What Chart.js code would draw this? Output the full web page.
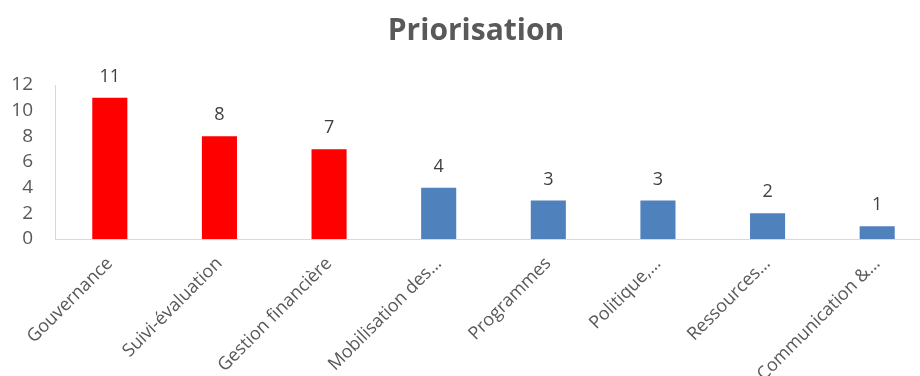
<!DOCTYPE html>
<html><head><meta charset="utf-8">
<script src="https://cdn.jsdelivr.net/npm/chart.js@4"></script>
<style>html,body{margin:0;padding:0;background:#fff;overflow:hidden;width:920px;height:376px}</style>
</head><body>
<canvas id="c" width="932" height="376"></canvas>
<script>
const categories = ["Gouvernance","Suivi-évaluation","Gestion financière","Mobilisation des…","Programmes","Politique,…","Ressources…","Communication &…"];
const values = [11,8,7,4,3,3,2,1];
const barColors = ["#FF0000","#FF0000","#FF0000","#4F81BD","#4F81BD","#4F81BD","#4F81BD","#4F81BD"];
const yTicks = [0,2,4,6,8,10,12];
const titleText = "Priorisation";
const FONT = "'Open Sans', sans-serif";

const valueLabels = {
  id:'valueLabels',
  afterDatasetsDraw(chart){
    const ctx = chart.ctx;
    const meta = chart.getDatasetMeta(0);
    ctx.save();
    ctx.font = "18px " + FONT;
    ctx.fillStyle = "#404040";
    ctx.textAlign = "center";
    ctx.textBaseline = "bottom";
    meta.data.forEach((bar,i)=>{
      ctx.fillText(String(values[i]), bar.x, bar.y - 12);
    });
    // chart title
    ctx.font = "bold 30px " + FONT;
    ctx.fillStyle = "#595959";
    ctx.textBaseline = "middle";
    ctx.fillText(titleText, 476, 31);
    ctx.restore();
  }
};

new Chart(document.getElementById('c'), {
  type:'bar',
  data:{labels:categories, datasets:[{data:values, backgroundColor:barColors, barPercentage:0.32, categoryPercentage:1}]},
  options:{
    responsive:false, animation:false,
    layout:{padding:{left:0,right:0,top:85,bottom:0}},
    plugins:{
      legend:{display:false},
      tooltip:{enabled:false},
      title:{display:false}
    },
    scales:{
      x:{
        grid:{display:false,drawTicks:false},
        border:{color:"#d9d9d9",width:1},
        ticks:{color:"#595959",font:{family:FONT,size:18},maxRotation:45,minRotation:45,padding:14,autoSkip:false},
        afterFit(s){ s.height = 137; }
      },
      y:{
        min:0,max:12,
        afterBuildTicks(s){ s.ticks = yTicks.map(v=>({value:v})); },
        grid:{display:false,drawTicks:false},
        border:{color:"#d9d9d9",width:1},
        ticks:{color:"#595959",font:{family:FONT,size:19},padding:22,autoSkip:false},
        afterFit(s){ s.width = 55; }
      }
    }
  },
  plugins:[valueLabels]
});
</script>
</body></html>
